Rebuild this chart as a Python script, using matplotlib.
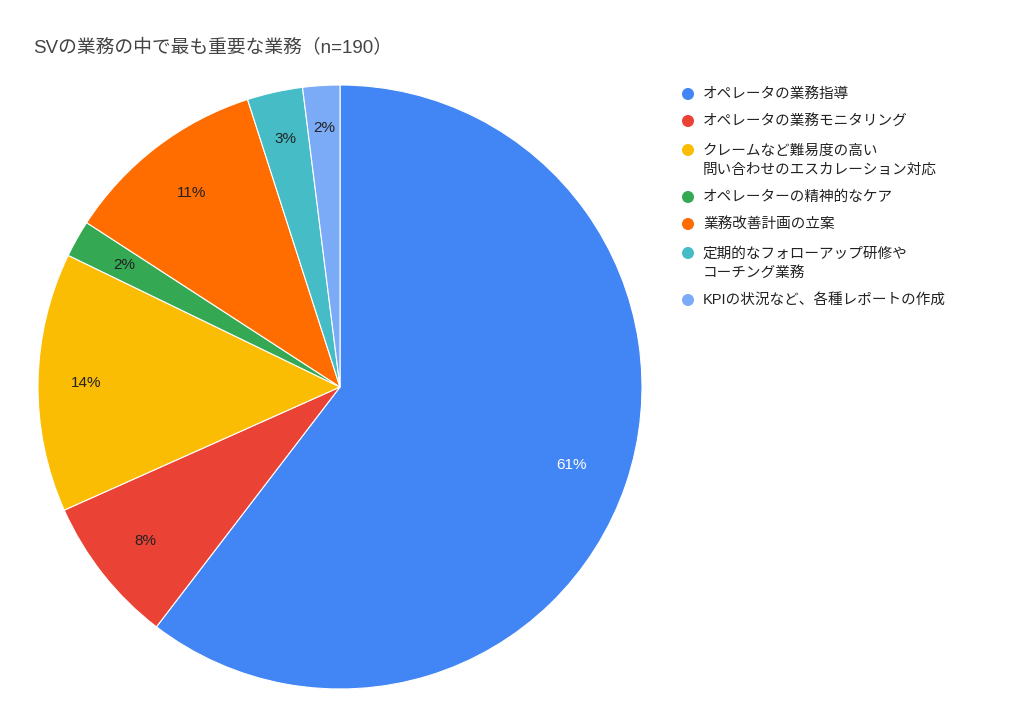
import matplotlib
matplotlib.use("Agg")
import matplotlib.pyplot as plt
import numpy as np

plt.rcParams['font.family'] = ['Liberation Sans', 'Noto Sans CJK JP', 'DejaVu Sans']

# 割合 (%), n=190
labels = [
    "オペレータの業務指導",
    "オペレータの業務モニタリング",
    "クレームなど難易度の高い\n問い合わせのエスカレーション対応",
    "オペレーターの精神的なケア",
    "業務改善計画の立案",
    "定期的なフォローアップ研修や\nコーチング業務",
    "KPIの状況など、各種レポートの作成",
]
values = [61, 8, 14, 2, 11, 3, 2]
colors = ["#4285F4", "#EA4335", "#FBBC04", "#34A853", "#FF6D01", "#46BDC6", "#7BAAF7"]
label_r = [0.81, 0.82, 0.84, 0.82, 0.81, 0.84, 0.86]  # ラベルの半径位置

W, H = 1024, 726
fig = plt.figure(figsize=(W / 100, H / 100), dpi=100)

# 円グラフ (中心 340,387 半径 302 px)
cx, cy, r = 340, 387, 302
ax = fig.add_axes([(cx - r) / W, (H - cy - r) / H, 2 * r / W, 2 * r / H])
total = sum(values)
wedges, texts, autotexts = ax.pie(
    values, colors=colors, startangle=90, counterclock=False,
    autopct=lambda p: f"{round(p * total / 100)}%", pctdistance=0.81,
    wedgeprops=dict(edgecolor="white", linewidth=0.8),
    textprops=dict(fontsize=11, color="#222222"),
)
for w, t, d in zip(wedges, autotexts, label_r):
    a = np.deg2rad((w.theta1 + w.theta2) / 2)
    t.set_position((d * np.cos(a), d * np.sin(a)))
autotexts[0].set_color("white")
ax.set_xlim(-1, 1)
ax.set_ylim(-1, 1)
ax.set_aspect("equal")
ax.axis("off")

fig.text(33 / W, 1 - 48 / H, "SVの業務の中で最も重要な業務（n=190）",
         fontsize=13.5, color="#444444", va="center", ha="left")

# 凡例
lg = fig.add_axes([0, 0, 1, 1])
lg.set_xlim(0, W)
lg.set_ylim(H, 0)
lg.axis("off")
lg.patch.set_alpha(0)
ys = [94, 121, 150, 197, 224, 253, 300]
for y, lab, c in zip(ys, labels, colors):
    lg.scatter([688], [y], s=75, color=c, edgecolors="none")
    if "\n" in lab:
        lg.text(703, y - 6, lab, fontsize=10.5, color="#222222", va="top", ha="left", linespacing=1.45)
    else:
        lg.text(703, y, lab, fontsize=10.5, color="#222222", va="center", ha="left")

fig.savefig("out.png", dpi=100, facecolor="white")
